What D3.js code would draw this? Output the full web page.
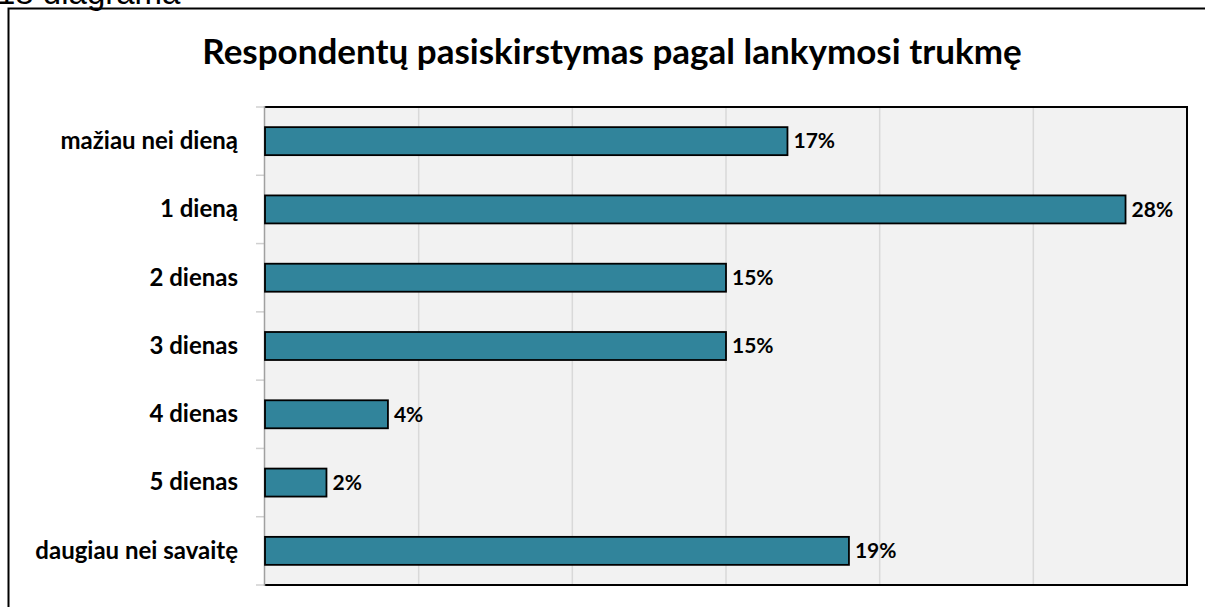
<!DOCTYPE html>
<html>
<head>
<meta charset="utf-8">
<script src="https://cdn.jsdelivr.net/npm/d3@7"></script>
<style>
	body { margin: 0; background: #fff; }
	text { font-family: Lato, "Open Sans", sans-serif; font-weight: bold; fill: #000; }
</style>
</head>
<body>
<script>
var categories = ["mažiau nei dieną", "1 dieną", "2 dienas", "3 dienas", "4 dienas", "5 dienas", "daugiau nei savaitę"];
var values = [17, 28, 15, 15, 4, 2, 19];
var xTicks = [0, 5, 10, 15, 20, 25, 30];

var w = 1205;
var h = 607;

var plot = {left: 265, top: 107, right: 1187, bottom: 585};

var svg = d3.select("body")
			.append("svg")
			.attr("width", w)
			.attr("height", h);

//caption above the frame, cut off by the page
svg.append("text")
	.attr("x", -3)
	.attr("y", 4)
	.style("font-family", "'Liberation Sans', Arial, sans-serif")
	.style("font-weight", "normal")
	.style("font-size", "33px")
	.text("18 diagrama");

//outer frame
svg.append("rect")
	.attr("x", 8.5)
	.attr("y", 8.5)
	.attr("width", 1205)
	.attr("height", 610)
	.attr("fill", "none")
	.attr("stroke", "#000")
	.attr("stroke-width", 2);

svg.append("text")
	.attr("x", 612)
	.attr("y", 64)
	.attr("text-anchor", "middle")
	.style("font-size", "35px")
	.text("Respondentų pasiskirstymas pagal lankymosi trukmę");

var x = d3.scaleLinear()
	.domain([0, 30])
	.range([plot.left, plot.right]);

var y = d3.scaleBand()
	.domain(categories)
	.range([plot.top, plot.bottom])
	.paddingInner(0.59)
	.paddingOuter(0.295);

//plot background
svg.append("rect")
	.attr("x", plot.left)
	.attr("y", plot.top)
	.attr("width", plot.right - plot.left)
	.attr("height", plot.bottom - plot.top)
	.attr("fill", "#f2f2f2");

//vertical gridlines
svg.selectAll("line.grid")
	.data(xTicks.slice(1, -1))
	.enter()
	.append("line")
	.attr("class", "grid")
	.attr("x1", function(d) { return x(d); })
	.attr("x2", function(d) { return x(d); })
	.attr("y1", plot.top)
	.attr("y2", plot.bottom)
	.attr("stroke", "#d9d9d9")
	.attr("stroke-width", 1.5);

//border on top, right, bottom
svg.append("path")
	.attr("d", "M" + plot.left + "," + plot.top + "H" + plot.right + "V" + plot.bottom + "H" + plot.left)
	.attr("fill", "none")
	.attr("stroke", "#000")
	.attr("stroke-width", 2);

//category axis, ticks at band boundaries
var step = y.step();
var boundaries = d3.range(categories.length + 1).map(function(i) { return plot.top + i * step; });

svg.selectAll("line.tick")
	.data(boundaries)
	.enter()
	.append("line")
	.attr("class", "tick")
	.attr("x1", plot.left - 9)
	.attr("x2", plot.left)
	.attr("y1", function(d) { return d; })
	.attr("y2", function(d) { return d; })
	.attr("stroke", "#d0d0d0")
	.attr("stroke-width", 1.5);

svg.append("line")
	.attr("x1", plot.left - 0.5)
	.attr("x2", plot.left - 0.5)
	.attr("y1", plot.top - 1)
	.attr("y2", plot.bottom + 1)
	.attr("stroke", "#a0a0a0")
	.attr("stroke-width", 1.5);

svg.selectAll("text.cat")
	.data(categories)
	.enter()
	.append("text")
	.attr("class", "cat")
	.attr("x", 238)
	.attr("y", function(d) { return y(d) + y.bandwidth() / 2; })
	.attr("dy", "0.33em")
	.attr("text-anchor", "end")
	.style("font-size", "24px")
	.text(function(d) { return d; });

//bars
svg.selectAll("rect.bar")
	.data(values)
	.enter()
	.append("rect")
	.attr("class", "bar")
	.attr("x", x(0))
	.attr("y", function(d, i) { return y(categories[i]); })
	.attr("width", function(d) { return x(d) - x(0); })
	.attr("height", y.bandwidth())
	.attr("fill", "#31849b")
	.attr("stroke", "#000")
	.attr("stroke-width", 1.8);

//value labels
svg.selectAll("text.val")
	.data(values)
	.enter()
	.append("text")
	.attr("class", "val")
	.attr("x", function(d) { return x(d) + 6; })
	.attr("y", function(d, i) { return y(categories[i]) + y.bandwidth() / 2; })
	.attr("dy", "0.35em")
	.style("font-size", "21px")
	.text(function(d) { return d + "%"; });
</script>
</body>
</html>
